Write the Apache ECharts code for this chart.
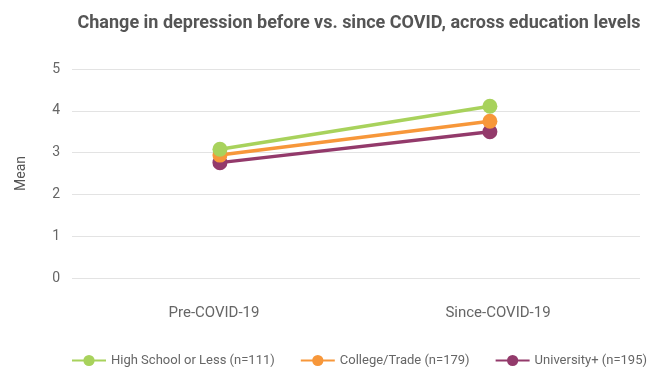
<!DOCTYPE html>
<html>
<head>
<meta charset="utf-8">
<script src="https://cdn.jsdelivr.net/npm/echarts@6/dist/echarts.min.js"></script>
<style>
  html, body { margin: 0; padding: 0; background: #fff; }
  #chart { width: 660px; height: 369px; }
</style>
</head>
<body>
<div id="chart"></div>
<script>
// Periods and group means
const periods = ['Pre-COVID-19', 'Since-COVID-19'];
const groupNames = ['High School or Less (n=111)', 'College/Trade (n=179)', 'University+ (n=195)'];
const highSchool = [3.08, 4.11];
const collegeTrade = [2.94, 3.75];
const university = [2.76, 3.50];
const yTicks = [0, 1, 2, 3, 4, 5];

const colors = ['#a8d25c', '#f7973a', '#933a6b'];
const seriesValues = [highSchool, collegeTrade, university];

const textColor = '#666';
const font = 'Roboto, "Noto Sans", sans-serif';

const chart = echarts.init(document.getElementById('chart'));

chart.setOption({
  animation: false,
  title: {
    text: 'Change in depression before vs. since COVID, across education levels',
    left: 354,
    textAlign: 'center',
    top: 9,
    textStyle: { color: '#555', fontSize: 18, fontWeight: 'bold', fontFamily: font }
  },
  grid: { left: 72, right: 20, top: 69, bottom: 91 },
  legend: {
    top: 349,
    left: 66,
    itemWidth: 34,
    itemHeight: 14,
    itemGap: 25,
    textStyle: { color: textColor, fontSize: 13, fontFamily: font },
    data: groupNames
  },
  xAxis: [
    {
      type: 'category',
      data: periods,
      boundaryGap: true,
      axisLine: { show: false },
      axisTick: { show: false },
      axisLabel: { color: textColor, fontSize: 15, fontFamily: font, margin: 28 }
    },
    {
      // positioning axis for the markers
      type: 'value',
      min: -0.548,
      max: 1.556,
      show: false
    }
  ],
  yAxis: {
    type: 'value',
    min: yTicks[0],
    max: yTicks[yTicks.length - 1],
    interval: 1,
    name: 'Mean',
    nameLocation: 'middle',
    nameGap: 44,
    nameTextStyle: { color: '#555', fontSize: 14, fontFamily: font },
    axisLine: { show: false },
    axisTick: { show: false },
    axisLabel: { color: textColor, fontSize: 14, fontFamily: font, margin: 12 },
    splitLine: { lineStyle: { color: '#e3e3e3', width: 1 } }
  },
  series: groupNames.map((name, i) => ({
    name: name,
    type: 'line',
    xAxisIndex: 1,
    data: seriesValues[i].map((v, j) => [j, v]),
    symbol: 'circle',
    symbolSize: 15,
    lineStyle: { width: 3.5, color: colors[i] },
    itemStyle: { color: colors[i] },
    z: 10 - i
  }))
});
</script>
</body>
</html>
